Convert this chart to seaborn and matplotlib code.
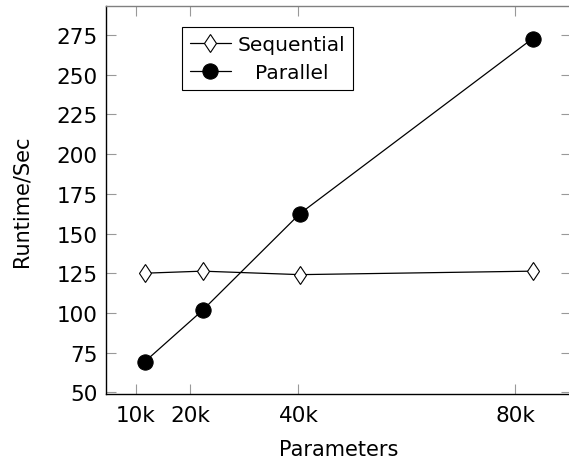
import matplotlib
matplotlib.use("Agg")
import matplotlib.pyplot as plt
import seaborn as sns
import pandas as pd

# values
params = [11600, 22300, 40300, 83200]
sequential = [125.0, 126.3, 124.1, 126.3]
parallel = [69.1, 101.6, 162.6, 272.8]

x_ticks = [10000, 20000, 40000, 80000]
x_tick_labels = ["10k", "20k", "40k", "80k"]
y_ticks = [50, 75, 100, 125, 150, 175, 200, 225, 250, 275]

df = pd.DataFrame({"params": params, "Sequential": sequential, "Parallel": parallel})

sns.set_style("ticks")
plt.rcParams["font.family"] = ["DejaVu Sans"]
plt.rcParams["font.size"] = 15
plt.rcParams["text.color"] = "black"
plt.rcParams["axes.labelcolor"] = "black"

fig = plt.figure(figsize=(5.69, 4.60), dpi=100)
ax = fig.add_axes([0.1858, 0.1407, 0.8183, 0.8435])

sns.lineplot(data=df, x="params", y="Sequential", ax=ax, color="black", lw=0.9,
             marker="d", markersize=9.5, markerfacecolor="white",
             markeredgecolor="black", markeredgewidth=0.8, label="Sequential")
sns.lineplot(data=df, x="params", y="Parallel", ax=ax, color="black", lw=0.9,
             marker="o", markersize=11, markerfacecolor="black",
             markeredgecolor="black", label="Parallel")

ax.margins(x=0.1, y=0.1)
ax.set_xticks(x_ticks)
ax.set_xticklabels(x_tick_labels)
ax.set_yticks(y_ticks)
ax.tick_params(direction="in", length=7.2, width=0.8, color="#999999",
               top=True, right=True, labelsize=15.5, pad=6, labelcolor="black")
ax.tick_params(axis="x", pad=8)

ax.set_xlabel("Parameters", fontsize=15, labelpad=10)
ax.set_ylabel("Runtime/Sec", fontsize=15, labelpad=18)

for side in ["left", "bottom"]:
    ax.spines[side].set_color("black")
    ax.spines[side].set_linewidth(1.0)
for side in ["top", "right"]:
    ax.spines[side].set_visible(True)
    ax.spines[side].set_color("#808080")
    ax.spines[side].set_linewidth(1.0)

leg = ax.legend(loc="upper left", bbox_to_anchor=(182.3 / 569, 1 - 28.3 / 460),
                bbox_transform=fig.transFigure, borderaxespad=0, fancybox=False,
                framealpha=1, edgecolor="black", handlelength=2.0,
                handletextpad=0.35, borderpad=0.4, labelspacing=0.42,
                fontsize=14.5)
leg.get_frame().set_linewidth(0.8)
# centre the shorter label in its column like the original
leg.get_texts()[1].set_position((17, 0))

fig.savefig("out.png", dpi=100)
